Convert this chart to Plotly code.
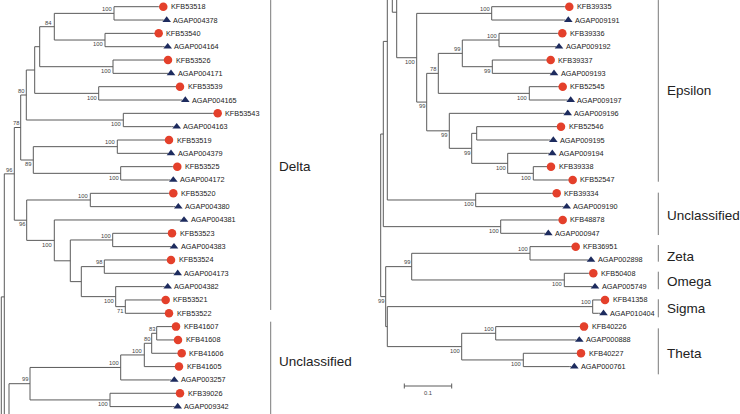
import plotly.graph_objects as go

# ---------------- data ----------------
Y0, STEP = 6.7, 13.33  # first tip row and row spacing (layout)

left_tips = ["KFB53518", "AGAP004378", "KFB53540", "AGAP004164", "KFB53526", "AGAP004171",
             "KFB53539", "AGAP004165", "KFB53543", "AGAP004163", "KFB53519", "AGAP004379",
             "KFB53525", "AGAP004172", "KFB53520", "AGAP004380", "AGAP004381", "KFB53523",
             "AGAP004383", "KFB53524", "AGAP004173", "AGAP004382", "KFB53521", "KFB53522",
             "KFB41607", "KFB41608", "KFB41606", "KFB41605", "AGAP003257", "KFB39026", "AGAP009342"]
left_tip_x = [158.3, 161.7, 153.7, 162.7, 163, 166, 175, 180.3, 212.7, 171.7, 164, 166,
              172.3, 168.3, 168.3, 173.3, 179, 167, 169, 166, 172.7, 162.7, 160.7, 164,
              171, 173, 176.7, 174, 169.3, 175, 172.7]

right_tips = ["KFB39335", "AGAP009191", "KFB39336", "AGAP009192", "KFB39337", "AGAP009193",
              "KFB52545", "AGAP009197", "AGAP009196", "KFB52546", "AGAP009195", "AGAP009194",
              "KFB39338", "KFB52547", "KFB39334", "AGAP009190", "KFB48878", "AGAP000947",
              "KFB36951", "AGAP002898", "KFB50408", "AGAP005749", "KFB41358", "AGAP010404",
              "KFB40226", "AGAP000888", "KFB40227", "AGAP000761"]
right_tip_x = [564.3, 563.3, 557.3, 554, 545.7, 549, 557.7, 565.7, 562.7, 556, 548.3, 547.3,
               546, 567.7, 551.7, 561.7, 557.7, 543.3, 570.7, 586, 588.3, 590, 600, 598.5,
               579, 574.3, 576, 569.3]


def N(x, kids, boot=None, side="a"):
    return {"x": x, "kids": kids, "boot": boot, "side": side}


def OFF(slot):  # continuation of the tree outside the picture
    return ("off", slot)


# left tree topology (node depth, children top->bottom, bootstrap)
A = N(114, [0, 1], 100, "a")
B = N(105, [2, 3], 100, "b")
AB = N(54.3, [A, B], 84, "a")
C = N(113, [4, 5], 100, "b")
ABC = N(39.7, [AB, C])
D = N(98.7, [6, 7], 100, "b")
ABCD = N(34.7, [ABC, D])
E = N(123.3, [8, 9], 100, "b")
ABCDE = N(26.3, [ABCD, E], 80, "a")
F = N(117.3, [10, 11], 100, "a")
G = N(120.7, [12, 13], 100, "b")
FG = N(33.3, [F, G], 89, "b")
G1 = N(20.7, [ABCDE, FG], 78, "a")
H = N(90.3, [14, 15], 100, "a")
J = N(112.7, [17, 18], 100, "a")
K = N(104.3, [19, 20], 98, "a")
M = N(125.3, [22, 23], 71, "b")
L = N(115.7, [21, M], 100, "b")
KL = N(81.3, [K, L])
JKL = N(70.3, [J, KL])
IJKL = N(54.3, [16, JKL], 100, "b")
G2 = N(26.7, [H, IJKL], 96, "b")
DELTA = N(14.3, [G1, G2], 96, "a")
O = N(156.7, [24, 25], 83, "a")
P = N(151.7, [O, 26], 80, "a")
Q = N(144.3, [P, 27], 100, "a")
R = N(120.7, [Q, 28], 100, "a")
S = N(110, [29, 30], 100, "b")
U = N(30, [R, S], 99, "a")
left_roots = [N(1.3, [N(4.3, [DELTA, OFF(31)]), OFF(33)]), N(9, [U, OFF(32)])]

# right tree topology
a = N(491.7, [0, 1], 100, "a")
b = N(499, [2, 3], 100, "a")
c = N(492.3, [4, 5], 99, "b")
bc = N(462.3, [b, c], 99, "a")
d = N(529.3, [6, 7], 100, "b")
bcd = N(438.3, [bc, d], 78, "a")
i_ = N(476.7, [9, 10])
g = N(533.3, [12, 13], 100, "b")
h = N(507.7, [11, g], 100, "b")
ih = N(471.7, [i_, h], 99, "b")
eih = N(449.3, [8, ih], 99, "b")
E2 = N(426.7, [bcd, eih], 99, "b")
EPS = N(416.7, [a, E2], 100, "b")
j = N(475.7, [14, 15], 100, "b")
k = N(500.7, [16, 17], 100, "b")
V = N(396.7, [OFF(-3), EPS])
W = N(392.3, [OFF(-19), V])
X = N(387.3, [W, j])
Yn = N(383.3, [X, k])
l_ = N(530, [18, 19], 100, "a")
m = N(564.3, [20, 21], 100, "b")
lm = N(411.7, [l_, m], 99, "a")
n = N(592.7, [22, 23], 100, "a")
o = N(495.7, [24, 25], 100, "a")
p = N(523.3, [26, 27], 100, "b")
op = N(461.7, [o, p], 100, "b")
nop = N(387.3, [n, op])
Z = N(385.7, [lm, nop], 99, "b")
right_roots = [N(380.7, [Yn, Z])]

# clade brackets: name, start slot, end slot, label slot
left_clades = [("Delta", -0.5, 22.75, 12.0), ("Unclassified", 23.63, 31.5, 26.63)]
right_clades = [("Epsilon", -0.5, 13.13, 6.25), ("Unclassified", 13.95, 17.13, 15.63),
                ("Zeta", 17.88, 19.13, 18.75), ("Omega", 19.88, 21.2, 20.63),
                ("Sigma", 21.95, 23.3, 22.63), ("Theta", 24.13, 27.58, 26.0)]

scale_value = "0.1"
scale_len = 47.4

# ---------------- build ----------------
seg_x, seg_y = [], []
annotations = []


def seg(x0, y0, x1, y1):
    seg_x.extend([x0, x1, None])
    seg_y.extend([y0, y1, None])


def slot_y(s):
    return Y0 + STEP * s


def layout(node, tip_x):
    if isinstance(node, int):
        return slot_y(node)
    if isinstance(node, tuple):
        return slot_y(node[1])
    ys = []
    for kid in node["kids"]:
        y = layout(kid, tip_x)
        ys.append(y)
        if isinstance(kid, int):
            seg(node["x"], y, tip_x[kid], y)
        elif isinstance(kid, dict):
            seg(node["x"], y, kid["x"], y)
    seg(node["x"], min(ys), node["x"], max(ys))
    cy = (ys[0] + ys[-1]) / 2
    if node["boot"] is not None:
        by = cy - 4.2 if node["side"] == "a" else cy + 4.2
        annotations.append(dict(x=node["x"] - 1.2, y=by, text=str(node["boot"]), showarrow=False,
                                xanchor="right", yanchor="middle", borderpad=0,
                                font=dict(size=5.8, color="#444", family="Liberation Sans")))
    return cy


for r in left_roots:
    layout(r, left_tip_x)
for r in right_roots:
    layout(r, right_tip_x)

circ_x, circ_y, tri_x, tri_y = [], [], [], []
for names, xs in ((left_tips, left_tip_x), (right_tips, right_tip_x)):
    for idx, (nm, tx) in enumerate(zip(names, xs)):
        y = slot_y(idx)
        seg(tx, y, tx + 2, y)
        mx = tx + 5
        if nm.startswith("KFB"):
            circ_x.append(mx); circ_y.append(y)
            lx = mx + 6.5
        else:
            tri_x.append(mx); tri_y.append(y)
            lx = mx + 5.5
        annotations.append(dict(x=lx, y=y, text=nm, showarrow=False, xanchor="left",
                                yanchor="middle", borderpad=0,
                                font=dict(size=7.3, color="#222", family="Liberation Sans")))

br_x, br_y = [], []
for clades, bx in ((left_clades, 270.7), (right_clades, 658.3)):
    for name, s0, s1, ls in clades:
        br_x.extend([bx, bx, None])
        br_y.extend([slot_y(s0), slot_y(s1), None])
        annotations.append(dict(x=bx + 7.5, y=slot_y(ls), text=name, showarrow=False,
                                xanchor="left", yanchor="middle", borderpad=0,
                                font=dict(size=13.5, color="#222", family="Liberation Sans")))

# scale bar
sb_x0, sb_y = 404.3, 386
sx = [sb_x0, sb_x0 + scale_len, None, sb_x0, sb_x0, None, sb_x0 + scale_len, sb_x0 + scale_len, None]
sy = [sb_y, sb_y, None, sb_y - 2.5, sb_y + 2.5, None, sb_y - 2.5, sb_y + 2.5, None]
annotations.append(dict(x=sb_x0 + scale_len / 2, y=sb_y + 7, text=scale_value, showarrow=False,
                        xanchor="center", yanchor="middle", borderpad=0,
                        font=dict(size=5.8, color="#444", family="Liberation Sans")))

fig = go.Figure()
fig.add_trace(go.Scatter(x=seg_x, y=seg_y, mode="lines", line=dict(color="#5a5a5a", width=1),
                         hoverinfo="skip"))
fig.add_trace(go.Scatter(x=br_x, y=br_y, mode="lines", line=dict(color="#7a7a7a", width=1),
                         hoverinfo="skip"))
fig.add_trace(go.Scatter(x=sx, y=sy, mode="lines", line=dict(color="#5a5a5a", width=1),
                         hoverinfo="skip"))
fig.add_trace(go.Scatter(x=circ_x, y=circ_y, mode="markers",
                         marker=dict(symbol="circle", size=8.5, color="#e4402b", line=dict(width=0))))
fig.add_trace(go.Scatter(x=tri_x, y=tri_y, mode="markers",
                         marker=dict(symbol="triangle-up", size=7.5, color="#1d2b5e", line=dict(width=0))))

fig.update_layout(width=740, height=414, margin=dict(l=0, r=0, t=0, b=0),
                  paper_bgcolor="white", plot_bgcolor="white", showlegend=False,
                  annotations=annotations,
                  xaxis=dict(range=[0, 740], visible=False, fixedrange=True),
                  yaxis=dict(range=[414, 0], visible=False, fixedrange=True))
fig.write_html("out.html", config={"displayModeBar": False},
               post_script="document.body.style.margin='0px';document.body.style.overflow='hidden';")
